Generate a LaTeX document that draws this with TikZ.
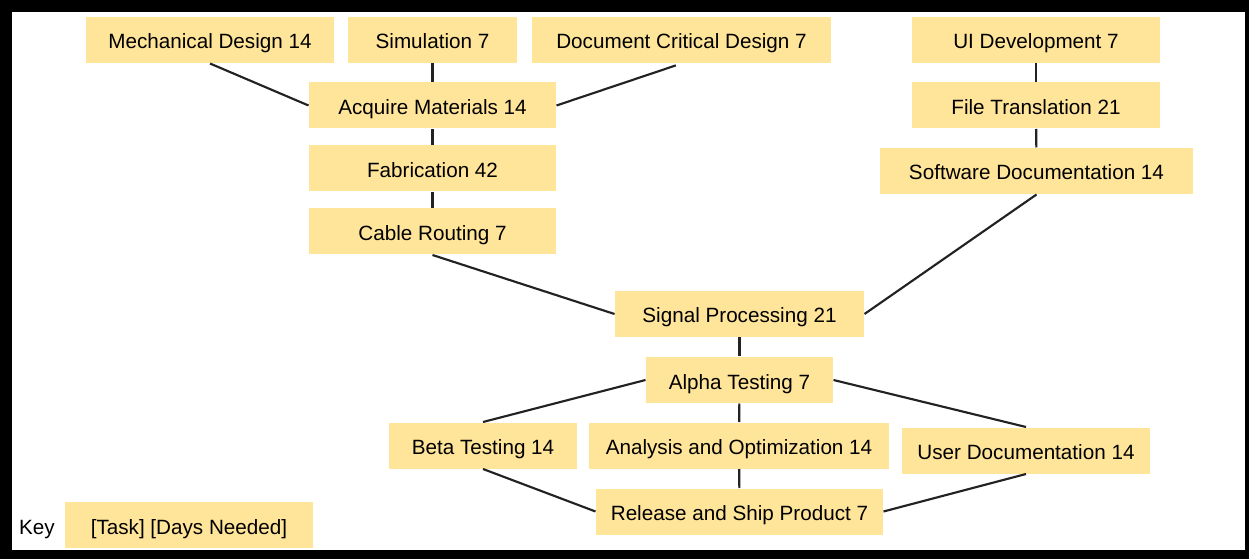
\documentclass[tikz,border=0pt]{standalone}
\usepackage{fontspec}
\setmainfont{Liberation Sans}
\usepackage{tikz}
\tikzset{every picture/.style={line width=0.75pt}}
\tikzset{task/.style={fill={rgb, 255:red, 255; green, 229; blue, 153 }, draw=none, minimum height=34.5pt, inner sep=0.75pt, text height=15pt, text depth=1.5pt, font=\fontsize{15.5}{18}\selectfont},
         link/.style={color={rgb, 255:red, 34; green, 34; blue, 34 }, line width=1.6pt}}

\begin{document}
\begin{tikzpicture}[x=0.75pt,y=0.75pt,yscale=-1,xscale=1]
                \fill [black] (0,0) rectangle (1249,559) ;
                \fill [white] (12,12) rectangle (1245,550) ;
                \node (mech) at (210,40) [task, minimum width=186pt] {Mechanical Design 14};
                \node (sim) at (432.5,40) [task, minimum width=126.75pt] {Simulation 7};
                \node (doc) at (681.5,40) [task, minimum width=224.25pt] {Document Critical Design 7};
                \node (ui) at (1036,40) [task, minimum width=186pt] {UI Development 7};
                \node (acq) at (432.5,105.5) [task, minimum width=185.25pt] {Acquire Materials 14};
                \node (file) at (1036,105.5) [task, minimum width=186pt] {File Translation 21};
                \node (fab) at (432.5,168.5) [task, minimum width=185.25pt] {Fabrication 42};
                \node (sw) at (1036.5,171) [task, minimum width=234.75pt] {Software Documentation 14};
                \node (cable) at (432.5,231.5) [task, minimum width=185.25pt] {Cable Routing 7};
                \node (sig) at (739.5,314) [task, minimum width=186.75pt] {Signal Processing 21};
                \node (alpha) at (739.5,380) [task, minimum width=140.25pt] {Alpha Testing 7};
                \node (beta) at (483,445.5) [task, minimum width=141pt] {Beta Testing 14};
                \node (anal) at (739,445.5) [task, minimum width=225pt] {Analysis and Optimization 14};
                \node (user) at (1026,450.5) [task, minimum width=186pt] {User Documentation 14};
                \node (rel) at (739.5,511.5) [task, minimum width=215.25pt] {Release and Ship Product 7};
                \node (key) at (189,525) [task, minimum width=186pt] {[Task] [Days Needed]};
                \node (keylbl) at (37,525) [font=\fontsize{15.5}{18}\selectfont, text height=15pt, text depth=1.5pt, inner sep=0.75pt] {Key};
                \draw [link] (mech.south) -- (acq.west) ;
                \draw [link] (sim) -- (acq) ;
                \draw [link, shorten <=4.5pt] (doc.south) -- (acq.east) ;
                \draw [link] (acq) -- (fab) ;
                \draw [link] (fab) -- (cable) ;
                \draw [link] (ui) -- (file) ;
                \draw [link] (file) -- (sw) ;
                \draw [link] (cable.south) -- (sig.west) ;
                \draw [link] (sw.south) -- (sig.east) ;
                \draw [link] (sig) -- (alpha) ;
                \draw [link] (alpha.west) -- (beta.north) ;
                \draw [link] (alpha) -- (anal) ;
                \draw [link] (alpha.east) -- (user.north) ;
                \draw [link] (beta.south) -- (rel.west) ;
                \draw [link] (anal) -- (rel) ;
                \draw [link] (user.south) -- (rel.east) ;
                \end{tikzpicture}
\end{document}
